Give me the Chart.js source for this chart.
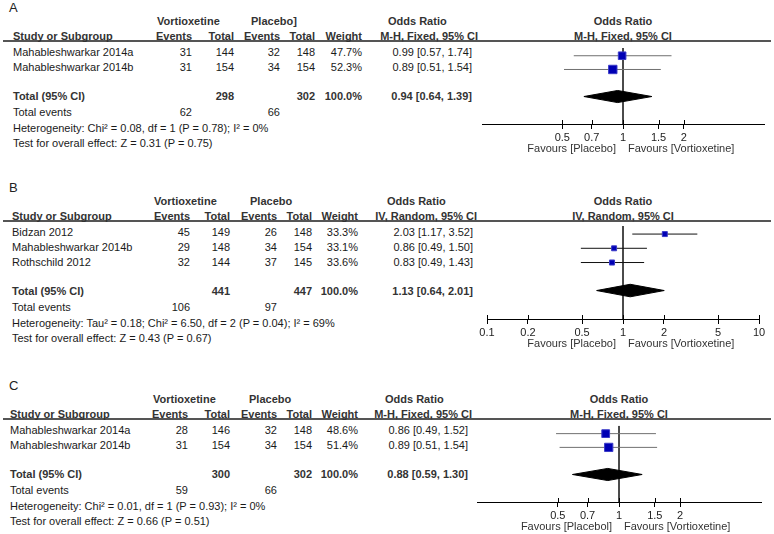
<!DOCTYPE html>
<html lang="en">
<head>
<meta charset="UTF-8">
<title>Vortioxetine vs Placebo - forest plots</title>
<script src="https://cdn.jsdelivr.net/npm/chart.js@4.4.1/dist/chart.umd.min.js"></script>
<style>
  body { margin: 0; background: #fff; }
  #page {
    position: relative; width: 774px; height: 534px; overflow: hidden;
    font-family: 'Liberation Sans', Arial, sans-serif; font-size: 11px; color: #1a1a1a;
  }
  .t { position: absolute; white-space: nowrap; line-height: 13px; }
  .b { font-weight: bold; color: #333; }
  .letter { font-size: 13px; color: #222; }
  .rule { position: absolute; height: 2px; background: #555; }
  canvas { position: absolute; }
</style>
</head>
<body>
<div id="page"></div>
<script>
const FONT = "'Liberation Sans', Arial, sans-serif";

// ---- Panel A ----
const studiesA = ['Mahableshwarkar 2014a', 'Mahableshwarkar 2014b'];
const vortEventsA = [31, 31];
const vortTotalsA = [144, 154];
const placEventsA = [32, 34];
const placTotalsA = [148, 154];
const weightsA = [47.7, 52.3];
const oddsA = [0.99, 0.89];
const lowA = [0.57, 0.51];
const highA = [1.74, 1.54];
const totalsA = [298, 302];
const totalEventsA = [62, 66];
const pooledA = [0.94, 0.64, 1.39];
const hetA = 'Heterogeneity: Chi² = 0.08, df = 1 (P = 0.78); I² = 0%';
const effectA = 'Test for overall effect: Z = 0.31 (P = 0.75)';
const methodA = 'M-H, Fixed, 95% CI';
const placeboHeadA = 'Placebo]';
const favoursA = ['Favours [Placebo]', 'Favours [Vortioxetine]'];
const ticksA = [0.5, 0.7, 1, 1.5, 2];
const rangeA = [0.2, 5];

// ---- Panel B ----
const studiesB = ['Bidzan 2012', 'Mahableshwarkar 2014b', 'Rothschild 2012'];
const vortEventsB = [45, 29, 32];
const vortTotalsB = [149, 148, 144];
const placEventsB = [26, 34, 37];
const placTotalsB = [148, 154, 145];
const weightsB = [33.3, 33.1, 33.6];
const oddsB = [2.03, 0.86, 0.83];
const lowB = [1.17, 0.49, 0.49];
const highB = [3.52, 1.50, 1.43];
const totalsB = [441, 447];
const totalEventsB = [106, 97];
const pooledB = [1.13, 0.64, 2.01];
const hetB = 'Heterogeneity: Tau² = 0.18; Chi² = 6.50, df = 2 (P = 0.04); I² = 69%';
const effectB = 'Test for overall effect: Z = 0.43 (P = 0.67)';
const methodB = 'IV, Random, 95% CI';
const placeboHeadB = 'Placebo';
const favoursB = ['Favours [Placebo]', 'Favours [Vortioxetine]'];
const ticksB = [0.1, 0.2, 0.5, 1, 2, 5, 10];
const rangeB = [0.1, 10];

// ---- Panel C ----
const studiesC = ['Mahableshwarkar 2014a', 'Mahableshwarkar 2014b'];
const vortEventsC = [28, 31];
const vortTotalsC = [146, 154];
const placEventsC = [32, 34];
const placTotalsC = [148, 154];
const weightsC = [48.6, 51.4];
const oddsC = [0.86, 0.89];
const lowC = [0.49, 0.51];
const highC = [1.52, 1.54];
const totalsC = [300, 302];
const totalEventsC = [59, 66];
const pooledC = [0.88, 0.59, 1.30];
const hetC = 'Heterogeneity: Chi² = 0.01, df = 1 (P = 0.93); I² = 0%';
const effectC = 'Test for overall effect: Z = 0.66 (P = 0.51)';
const methodC = 'M-H, Fixed, 95% CI';
const placeboHeadC = 'Placebo';
const favoursC = ['Favours [Placebol]', 'Favours [Vortioxetine]'];
const ticksC = [0.5, 0.7, 1, 1.5, 2];
const rangeC = [0.2, 5];

// page layout (pixels) for each panel
const layoutA = { rule: 41, one: 623, half: 141, left: 13, cols: [192, 234, 280, 315, 362, 472], vortHead: 157, placHead: 251, orHead: 388, methodRight: 478, ciColor: '#707070' };
const layoutB = { rule: 221, one: 623, half: 136, left: 12, cols: [190, 230, 277, 312, 358, 473], vortHead: 154, placHead: 250, orHead: 387, methodRight: 477, ciColor: '#111' };
const layoutC = { rule: 419, one: 619, half: 142, left: 10, cols: [188, 230, 277, 312, 358, 468], vortHead: 153, placHead: 249, orHead: 385, methodRight: 472, ciColor: '#707070' };

const panels = [
  { letter: 'A', studies: studiesA, vEv: vortEventsA, vTot: vortTotalsA, pEv: placEventsA, pTot: placTotalsA, weights: weightsA, odds: oddsA, low: lowA, high: highA, totals: totalsA, totalEvents: totalEventsA, pooled: pooledA, het: hetA, effect: effectA, method: methodA, placeboHead: placeboHeadA, favours: favoursA, ticks: ticksA, range: rangeA, lay: layoutA },
  { letter: 'B', studies: studiesB, vEv: vortEventsB, vTot: vortTotalsB, pEv: placEventsB, pTot: placTotalsB, weights: weightsB, odds: oddsB, low: lowB, high: highB, totals: totalsB, totalEvents: totalEventsB, pooled: pooledB, het: hetB, effect: effectB, method: methodB, placeboHead: placeboHeadB, favours: favoursB, ticks: ticksB, range: rangeB, lay: layoutB },
  { letter: 'C', studies: studiesC, vEv: vortEventsC, vTot: vortTotalsC, pEv: placEventsC, pTot: placTotalsC, weights: weightsC, odds: oddsC, low: lowC, high: highC, totals: totalsC, totalEvents: totalEventsC, pooled: pooledC, het: hetC, effect: effectC, method: methodC, placeboHead: placeboHeadC, favours: favoursC, ticks: ticksC, range: rangeC, lay: layoutC }
];

const page = document.getElementById('page');

function addText(txt, x, y, align, cls) {
  const el = document.createElement('div');
  el.className = 't' + (cls ? ' ' + cls : '');
  el.textContent = txt;
  el.style.left = x + 'px';
  el.style.top = (y - 6.5) + 'px';
  if (align === 'right') el.style.transform = 'translateX(-100%)';
  if (align === 'center') el.style.transform = 'translateX(-50%)';
  page.appendChild(el);
}

const fmtOR = (v, lo, hi) => `${v.toFixed(2)} [${lo.toFixed(2)}, ${hi.toFixed(2)}]`;

function drawTable(p) {
  const L = p.lay, c = L.cols, r = L.rule;
  addText(p.letter, 9, r - 34, 'left', 'letter');

  const rule = document.createElement('div');
  rule.className = 'rule';
  rule.style.left = '3px';
  rule.style.width = '768px';
  rule.style.top = (r - 1) + 'px';
  page.appendChild(rule);

  // header
  addText('Vortioxetine', L.vortHead, r - 19.5, 'left', 'b');
  addText(p.placeboHead, L.placHead, r - 19.5, 'left', 'b');
  addText('Odds Ratio', L.orHead, r - 19.5, 'left', 'b');
  addText('Odds Ratio', L.one, r - 19.5, 'center', 'b');
  addText('Study or Subgroup', L.left, r - 5, 'left', 'b');
  ['Events', 'Total', 'Events', 'Total', 'Weight'].forEach((h, i) => addText(h, c[i], r - 5, 'right', 'b'));
  addText(p.method, L.methodRight, r - 5, 'right', 'b');
  addText(p.method, L.one, r - 5, 'center', 'b');

  // studies
  let y = r + 11.3;
  p.studies.forEach((s, i) => {
    y = r + 11.3 + 15 * i;
    addText(s, L.left, y, 'left');
    addText(String(p.vEv[i]), c[0], y, 'right');
    addText(String(p.vTot[i]), c[1], y, 'right');
    addText(String(p.pEv[i]), c[2], y, 'right');
    addText(String(p.pTot[i]), c[3], y, 'right');
    addText(p.weights[i].toFixed(1) + '%', c[4], y, 'right');
    addText(fmtOR(p.odds[i], p.low[i], p.high[i]), c[5], y, 'right');
  });

  // totals
  y += 29.2;
  addText('Total (95% CI)', L.left, y, 'left', 'b');
  addText(String(p.totals[0]), c[1], y, 'right', 'b');
  addText(String(p.totals[1]), c[3], y, 'right', 'b');
  addText('100.0%', c[4], y, 'right', 'b');
  addText(fmtOR(p.pooled[0], p.pooled[1], p.pooled[2]), c[5], y, 'right', 'b');
  y += 15.7;
  addText('Total events', L.left, y, 'left');
  addText(String(p.totalEvents[0]), c[0], y, 'right');
  addText(String(p.totalEvents[1]), c[2], y, 'right');
  y += 16;
  addText(p.het, L.left, y, 'left');
  y += 15.5;
  addText(p.effect, L.left, y, 'left');
}

// favours labels + the short tick marks above the axis line
const favoursPlugin = {
  id: 'favours',
  afterDraw(chart, args, opts) {
    const { ctx, chartArea } = chart;
    const xs = chart.scales.x;
    const cx = xs.getPixelForValue(1);
    ctx.save();
    ctx.strokeStyle = '#000';
    ctx.lineWidth = 1;
    xs.ticks.forEach(t => {
      const px = Math.round(xs.getPixelForValue(t.value)) + 0.5;
      ctx.beginPath();
      ctx.moveTo(px, chartArea.bottom - 4);
      ctx.lineTo(px, chartArea.bottom);
      ctx.stroke();
    });
    ctx.font = '11px ' + FONT;
    ctx.fillStyle = '#333';
    ctx.textBaseline = 'middle';
    ctx.textAlign = 'right';
    ctx.fillText(opts.left, cx - 7, chartArea.bottom + 25);
    ctx.textAlign = 'left';
    ctx.fillText(opts.right, cx + 5, chartArea.bottom + 25);
    ctx.restore();
  }
};

function drawForest(p) {
  const L = p.lay;
  const n = p.odds.length;
  const yMin = -0.567, yMax = n + 2.97;
  const axisH = 36, pad = 20;
  const canvas = document.createElement('canvas');
  const w = 2 * L.half + 2 * pad;
  const h = Math.round((yMax - yMin) * 15 + axisH);
  canvas.width = w; canvas.height = h;
  canvas.style.width = w + 'px'; canvas.style.height = h + 'px';
  canvas.style.left = (L.one - L.half - pad) + 'px';
  canvas.style.top = L.rule + 'px';
  page.appendChild(canvas);

  const ciLines = p.odds.map((v, i) => ({
    data: [{ x: p.low[i], y: i }, { x: p.high[i], y: i }],
    showLine: true, borderColor: L.ciColor, borderWidth: 1, pointRadius: 0, order: 2, clip: false
  }));
  const squares = {
    data: p.odds.map((v, i) => ({ x: v, y: i })),
    pointStyle: 'rect',
    pointRadius: p.weights.map(wt => (0.18 * wt - 1) / Math.SQRT2),
    backgroundColor: '#0000b4', borderColor: '#3a3ac8', borderWidth: 1,
    order: 0, clip: false
  };
  const yd = n + 0.97, dh = 0.44;
  const [est, lo, hi] = p.pooled;
  const diamond = {
    data: [{ x: lo, y: yd }, { x: est, y: yd - dh }, { x: hi, y: yd }, { x: est, y: yd + dh }, { x: lo, y: yd }],
    showLine: true, fill: 'shape', backgroundColor: '#000', borderColor: '#000', borderWidth: 1,
    pointRadius: 0, order: 1
  };
  const noEffect = {
    data: [{ x: 1, y: yMin }, { x: 1, y: yMax }],
    showLine: true, borderColor: '#333', borderWidth: 1, pointRadius: 0, order: 3
  };

  new Chart(canvas, {
    type: 'scatter',
    data: { datasets: [squares, diamond, ...ciLines, noEffect] },
    options: {
      responsive: false,
      animation: false,
      events: [],
      layout: { padding: { left: pad, right: pad, top: 0, bottom: 0 } },
      plugins: {
        legend: { display: false },
        tooltip: { enabled: false },
        favours: { left: p.favours[0], right: p.favours[1] }
      },
      scales: {
        x: {
          type: 'logarithmic',
          min: p.range[0], max: p.range[1],
          afterBuildTicks: s => { s.ticks = p.ticks.map(v => ({ value: v })); },
          afterFit: s => { s.height = axisH; },
          ticks: {
            autoSkip: false, maxRotation: 0, padding: 2, color: '#222',
            font: { family: FONT, size: 11 },
            callback: v => String(v)
          },
          grid: { drawOnChartArea: false, drawTicks: true, tickLength: 5, tickColor: '#000' },
          border: { display: true, color: '#000', width: 1 }
        },
        y: { type: 'linear', display: false, reverse: true, min: yMin, max: yMax }
      }
    },
    plugins: [favoursPlugin]
  });
}

panels.forEach(p => { drawTable(p); drawForest(p); });
</script>
</body>
</html>
